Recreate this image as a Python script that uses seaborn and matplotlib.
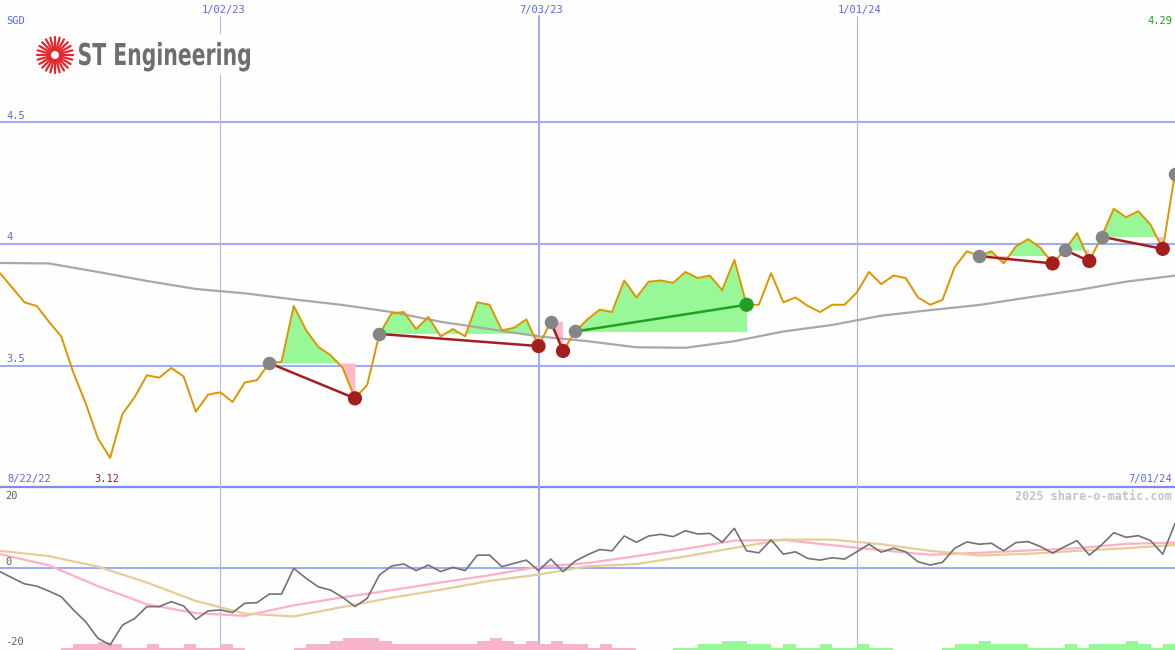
import numpy as np
import pandas as pd
import seaborn as sns
import matplotlib.pyplot as plt
from matplotlib.patches import Rectangle, PathPatch
from matplotlib.lines import Line2D
from matplotlib.textpath import TextPath
from matplotlib.font_manager import FontProperties
from matplotlib.transforms import Affine2D

sns.set_style("white")
plt.rcParams["font.family"] = ["DejaVu Sans Mono", "DejaVu Sans"]

W, H = 1175, 650

# weekly closes in SGD, one value per week from 8/29/22 to 7/01/24
price = [3.88, 3.82, 3.76, 3.745, 3.68, 3.62, 3.47, 3.345, 3.20, 3.12,
         3.30, 3.37, 3.46, 3.45, 3.49, 3.455, 3.31, 3.38, 3.39, 3.35,
         3.43, 3.44, 3.51, 3.515, 3.745, 3.646, 3.577, 3.543, 3.49, 3.365,
         3.42, 3.63, 3.715, 3.72, 3.65, 3.70, 3.62, 3.65, 3.62, 3.76,
         3.75, 3.645, 3.655, 3.69, 3.58, 3.68, 3.56, 3.64, 3.69, 3.73,
         3.72, 3.85, 3.78, 3.845, 3.85, 3.84, 3.885, 3.86, 3.87, 3.81,
         3.935, 3.75, 3.75, 3.88, 3.76, 3.78, 3.745, 3.72, 3.75, 3.75,
         3.80, 3.885, 3.835, 3.87, 3.86, 3.78, 3.75, 3.77, 3.905, 3.97,
         3.95, 3.97, 3.92, 3.99, 4.02, 3.985, 3.92, 3.975, 4.045, 3.93,
         4.03, 4.145, 4.11, 4.135, 4.08, 3.98, 4.29]

# lower panel oscillator
osc = [-1.1, -3.0, -4.8, -5.5, -7.0, -8.7, -12.7, -16.3, -21.3, -23.3,
       -17.3, -15.3, -11.7, -11.7, -10.2, -11.5, -15.6, -13.0, -12.7, -13.5,
       -10.7, -10.5, -7.9, -7.9, -0.1, -3.1, -5.7, -6.7, -8.9, -11.7,
       -9.2, -2.1, 0.6, 1.2, -0.8, 0.9, -1.1, 0.2, -0.8, 3.9,
       3.9, 0.4, 1.4, 2.4, -0.8, 2.7, -1.1, 2.1, 4.0, 5.6,
       5.2, 9.7, 7.8, 9.7, 10.2, 9.5, 11.3, 10.3, 10.5, 7.8,
       12.0, 5.2, 4.6, 8.5, 4.2, 4.9, 2.9, 2.4, 3.1, 2.7,
       4.9, 7.2, 4.8, 6.0, 4.9, 1.9, 0.9, 1.7, 6.0, 7.9,
       7.2, 7.5, 5.2, 7.7, 8.0, 6.5, 4.5, 6.5, 8.3, 3.9,
       7.0, 10.7, 9.3, 9.8, 8.3, 4.2, 13.5]

# histogram along the bottom (negative = pink, positive = green)
osc_bars = [0, 0, 0, 0, 0, -0.7, -1.7, -1.7, -2.5, -1.7,
            -0.7, -0.7, -1.7, -0.7, -0.7, -1.7, -0.7, -0.7, -1.7, -0.7,
            0, 0, 0, 0, -0.7, -1.7, -1.7, -2.7, -3.7, -3.7,
            -3.7, -2.7, -1.7, -1.7, -1.7, -1.7, -1.7, -1.7, -1.7, -2.7,
            -3.5, -2.7, -1.7, -2.7, -1.7, -2.7, -1.7, -1.7, -0.7, -1.7,
            -0.7, -0.7, 0, 0, 0, 0.7, 0.7, 1.7, 1.7, 2.7,
            2.7, 1.7, 1.7, 0.7, 1.7, 0.7, 0.7, 1.7, 0.7, 0.7,
            1.7, 0.7, 0.7, 0, 0, 0, 0, 0.7, 1.7, 1.7,
            2.7, 1.7, 1.7, 1.7, 0.7, 0.7, 0.7, 1.7, 0.7, 1.7,
            1.7, 1.7, 2.7, 1.7, 0.7, 1.7, 1.7]

# smoothed lines, read every 4th week
ma_weeks = list(range(0, 97, 4))
ma_slow = [3.922, 3.92, 3.885, 3.848, 3.815, 3.797, 3.772, 3.749, 3.72, 3.68,
           3.65, 3.62, 3.60, 3.575, 3.573, 3.60, 3.64, 3.667, 3.705, 3.728,
           3.749, 3.78, 3.81, 3.845, 3.87]
osc_ma_fast = [4.2, 0.8, -5.5, -11.0, -13.7, -14.5, -11.3, -8.9, -6.7, -4.4,
               -2.2, 0.4, 1.5, 3.6, 5.8, 8.3, 8.5, 6.9, 5.4, 4.0,
               4.6, 5.3, 6.0, 7.3, 7.7]
osc_ma_slow = [5.2, 3.6, 0.4, -4.4, -10.0, -13.8, -14.7, -11.8, -9.0, -6.6,
               -3.9, -2.0, 0.5, 1.2, 3.5, 6.1, 8.6, 8.6, 7.2, 5.2,
               3.8, 4.3, 5.2, 6.0, 7.0]

# trend signals: start week -> end week
sig_start = [22, 31, 45, 47, 80, 87, 90]
sig_end = [29, 44, 46, 61, 86, 89, 95]
sig_up = [False, False, False, True, False, False, False]
last_start = 96

date_weeks = [18, 44, 70]
date_labels = ["1/02/23", "7/03/23", "1/01/24"]
price_ticks = [4.5, 4.0, 3.5]
price_tick_labels = ["4.5", "4", "3.5"]

BG = "#fdfefd"
GRID = "#a3acf2"
BLUE_TXT = "#5b67e8"
GREEN_FILL = "#98f898"
PINK_FILL = "#ffb8c8"

weeks = np.arange(len(price))
df = pd.DataFrame({"week": weeks, "price": price, "osc": osc})
ma = pd.DataFrame({"week": ma_weeks, "ma": ma_slow,
                   "fast": osc_ma_fast, "slow": osc_ma_slow})


def px(x, y):
    return x / W, 1 - y / H


fig = plt.figure(figsize=(W / 100, H / 100), dpi=100, facecolor=BG)
ax = fig.add_axes([0, 162 / H, 1, 488 / H])
ax2 = fig.add_axes([0, 0, 1, 162 / H])
for a in (ax, ax2):
    a.set_xlim(0, 96)
    a.axis("off")
ax.set_ylim(2.996, 5.004)
ax2.set_ylim(-24.85, 24.24)

# grid
for p in price_ticks:
    ax.axhline(p, color=GRID, lw=1.5, zorder=1)
ax.axhline(3.0, color="#7c8bee", lw=1.6, zorder=1, clip_on=False)
ax2.axhline(0, color=GRID, lw=1.5, zorder=1)
for w in date_weeks:
    mid = w == 44
    ax.axvline(w, ymax=0.967, color=GRID if mid else "#b4b8dc",
               lw=1.5 if mid else 0.8, zorder=1)
    ax2.axvline(w, color=GRID if mid else "#b4b8dc",
                lw=1.5 if mid else 0.8, zorder=1)

# trend fills
for s, e in zip(sig_start, sig_end):
    x = weeks[s:e + 1]
    y = np.array(price[s:e + 1])
    base = price[s]
    ax.fill_between(x, base, y, where=y >= base, interpolate=True,
                    color=GREEN_FILL, lw=0, zorder=2)
    ax.fill_between(x, base, y, where=y < base, interpolate=True,
                    color=PINK_FILL, lw=0, zorder=2)

sns.lineplot(data=ma, x="week", y="ma", ax=ax, color="#a8a8a8", lw=1.6, zorder=3)
sns.lineplot(data=df, x="week", y="price", ax=ax, color="#dc9600", lw=1.4, zorder=4)

# signal lines and markers
seg = pd.DataFrame({
    "week": [w for s, e in zip(sig_start, sig_end) for w in (s, e)],
    "price": [price[w] for s, e in zip(sig_start, sig_end) for w in (s, e)],
    "seg": [i for i in range(len(sig_start)) for _ in range(2)],
})
pal = {i: ("#22a022" if up else "#a51e1e") for i, up in enumerate(sig_up)}
sns.lineplot(data=seg, x="week", y="price", hue="seg", palette=pal, ax=ax,
             lw=1.8, legend=False, zorder=5)

starts = sig_start + [last_start]
sns.scatterplot(x=starts, y=[price[w] for w in starts], ax=ax, color="#858585",
                s=95, linewidth=0, zorder=6)
ends_col = ["#22a022" if up else "#a51e1e" for up in sig_up]
ax.scatter(sig_end, [price[w] for w in sig_end], c=ends_col, s=105,
           linewidths=0, zorder=7)

# lower panel
bar_cols = ["#98f898" if v > 0 else "#f8b4c8" for v in osc_bars]
ax2.bar(weeks, np.abs(osc_bars), bottom=-24.85, width=1, align="edge",
        color=bar_cols, lw=0, zorder=1)
sns.lineplot(data=ma, x="week", y="fast", ax=ax2, color="#ffb0c8", lw=1.6, zorder=2)
sns.lineplot(data=ma, x="week", y="slow", ax=ax2, color="#e6cc98", lw=1.6, zorder=2)
sns.lineplot(data=df, x="week", y="osc", ax=ax2, color="#727272", lw=1.2, zorder=3)

# labels
fs = 7.5
fig.text(*px(6, 21.5), "SGD", color=BLUE_TXT, fontsize=fs, va="center")
for w, lab in zip(date_weeks, date_labels):
    fig.text(*px(w * W / 96 + 3, 9.5), lab, color=BLUE_TXT, fontsize=fs,
             ha="center", va="center")
for p, lab in zip(price_ticks, price_tick_labels):
    fig.text(*px(6, 244 - (p - 4) * 243 - 6.5), lab, color=BLUE_TXT,
             fontsize=fs, va="center")
fig.text(*px(1172, 21.5), f"{price[-1]:.2f}", color="#22a022", fontsize=fs,
         ha="right", va="center")
fig.text(*px(7, 479), "8/22/22", color=BLUE_TXT, fontsize=fs, va="center")
fig.text(*px(94, 479), f"{min(price):.2f}", color="#a51e1e", fontsize=fs,
         va="center")
fig.text(*px(1172, 479), "7/01/24", color=BLUE_TXT, fontsize=fs, ha="right",
         va="center")
fig.text(*px(5, 496), "20", color="#606060", fontsize=fs, va="center")
fig.text(*px(5, 562), "0", color="#606060", fontsize=fs, va="center")
fig.text(*px(5, 642), "-20", color="#606060", fontsize=fs, va="center")
fig.text(*px(1172, 496), "2025 share-o-matic.com", color="#c4c4c4",
         fontsize=8.5, ha="right", va="center", fontweight="bold")

# logo
fig.add_artist(Rectangle(px(34, 75), 222 / W, 41 / H, transform=fig.transFigure,
                         facecolor=BG, edgecolor="none", zorder=5))
cx, cy = 55, 55
for ang in np.linspace(0, 2 * np.pi, 24, endpoint=False):
    x0, y0 = px(cx + 5 * np.cos(ang), cy + 5 * np.sin(ang))
    x1, y1 = px(cx + 18 * np.cos(ang), cy + 18 * np.sin(ang))
    fig.add_artist(Line2D([x0, x1], [y0, y1], transform=fig.transFigure,
                          color="#e5262c", lw=1.6, zorder=6))

# condensed logo text: squeeze a bold text path into the logo box
prop = FontProperties(family="DejaVu Sans", weight="bold")
tp = TextPath((0, 0), "ST Engineering", size=1, prop=prop)
ext = tp.get_extents()
cap = TextPath((0, 0), "T", size=1, prop=prop).get_extents().y1
sx = 171 / (ext.x1 - ext.x0)
sy = 22 / cap
trans = (Affine2D().translate(-ext.x0, 0).scale(sx / W, sy / H)
         .translate(79 / W, 1 - 65 / H) + fig.transFigure)
fig.add_artist(PathPatch(tp, transform=trans, facecolor="#6d6e71",
                         edgecolor="none", zorder=7))

fig.savefig("out.png", dpi=100, facecolor=BG)
